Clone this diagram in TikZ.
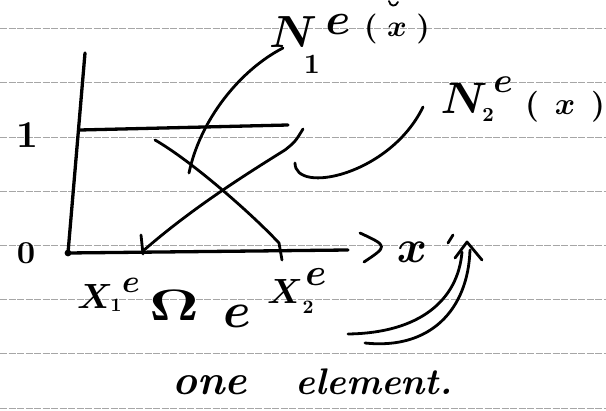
\documentclass[tikz,border=0pt]{standalone}
\begin{document}
\begin{tikzpicture}[x=1pt,y=-1pt,
  rule/.style={gray!70,line width=0.7pt,dash pattern=on 7pt off 1.5pt},
  pen/.style={line width=2.8pt,line cap=round,line join=round},
  axis/.style={line width=3.3pt,line cap=round,line join=round},
  lbl/.style={inner sep=0pt,outer sep=0pt,font=\boldmath\bfseries}]
\useasboundingbox (0,0) rectangle (606,411);
\foreach \y in {28.5,82.7,136.9,191.1,245.3,299.5,353.7,407.9}
  \draw[rule] (0,\y) -- (606,\y);
% axes
\coordinate (top) at (85,53);
\coordinate (origin) at (68,253);
\coordinate (xend) at (348,250);
\coordinate (lvlL) at (80,130);
\coordinate (lvlR) at (288,125);
\coordinate (x1) at (143,251);
\coordinate (x2) at (281,250);
\draw[axis] (top) -- (origin) -- (xend);
\fill (origin) circle (3.4pt);
\draw[axis] (lvlL) -- (lvlR);
% ticks
\draw[pen] (141,235) -- (143,254);
% shape function lines
\draw[pen] (303,129) .. controls (295,142) .. (285,150)
  .. controls (240,178) and (190,210) .. (x1);
\draw[pen] (155,140) .. controls (190,160) and (250,212) .. (279,243) -- (282,260);
% axis arrow head
\draw[pen] (360,233) .. controls (388,246) .. (364,262);
% leader curves
\draw[pen] (283,48) .. controls (240,70) and (200,120) .. (189,173);
\draw[pen] (295,163) .. controls (295,195) and (390,175) .. (423,107);
% double curved arrow
\draw[pen] (453,235) -- (448,243);
\draw[pen] (455,258) -- (467,242) -- (482,260);
\draw[pen] (462,252) .. controls (458,300) and (420,333) .. (348,334);
\draw[pen] (470,250) .. controls (468,310) and (430,350) .. (365,343);
\draw[pen,line width=1.8pt] (389,1) .. controls (390,7) and (396,7) .. (398,2);
% labels
\node[lbl,scale=4.5] (N1) at (293,32) {$N$};
\node[lbl,scale=4.5] (N1e) at (338,25) {$e$};
\node[lbl,scale=2.8] (N1s) at (312,64) {$1$};
\node[lbl,scale=3] (N1x) at (397,29) {$(\;x\;)$};
\node[lbl,scale=4.4] (N2) at (464,98) {$N$};
\node[lbl,scale=2] (N2s) at (488,115) {$2$};
\node[lbl,scale=3.5] (N2e) at (503,85) {$e$};
\node[lbl,scale=3.1] (N2x) at (565,107) {$(\;\,x\;\,)$};
\node[lbl,scale=3.8] (one) at (27,135) {$1$};
\node[lbl,scale=3.2] (zero) at (26,253) {$0$};
\node[lbl,scale=4.6] (xl) at (412,252) {$x$};
\node[lbl,scale=3.5] (X1) at (95,296) {$X$};
\node[lbl,scale=1.9] (X1s) at (116,305) {$1$};
\node[lbl,scale=3.2] (X1e) at (131,285) {$e$};
\node[lbl,xscale=6,yscale=4.4] (Om) at (174,305) {$\Omega$};
\node[lbl,scale=5] (Ome) at (237,316) {$e$};
\node[lbl,scale=3.5] (X2) at (285,291) {$X$};
\node[lbl,scale=1.9] (X2s) at (308,307) {$2$};
\node[lbl,scale=3.8] (X2e) at (316,277) {$e$};
\node[lbl,scale=4.2,anchor=base] (w1) at (210,395) {\itshape one};
\node[lbl,scale=3.7,anchor=base] (w2) at (374,395) {\itshape element.};
\end{tikzpicture}
\end{document}
